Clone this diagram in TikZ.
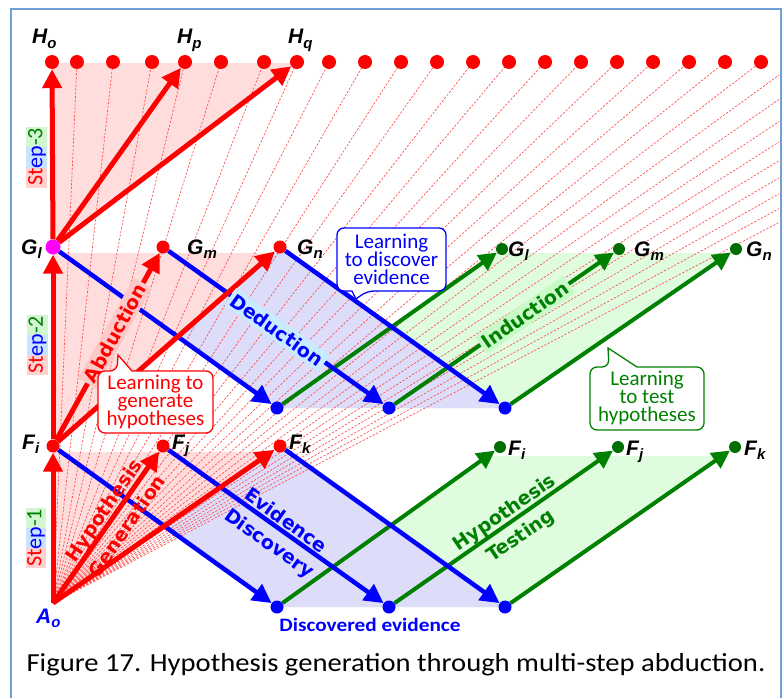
\documentclass[tikz,border=0pt]{standalone}
\usepackage{fontspec}
\usepackage{graphicx}
\setmainfont{Liberation Sans}
\newfontfamily\vfont{DejaVu Sans}
\newfontfamily\cfont{Carlito}
\usetikzlibrary{arrows.meta}
\setlength{\lineskiplimit}{-50pt}

\definecolor{frameblue}{RGB}{110,160,215}
\definecolor{dred}{RGB}{255,0,0}
\definecolor{dblue}{RGB}{0,0,255}
\definecolor{dgreen}{RGB}{0,128,0}
\definecolor{dotgreen}{RGB}{0,110,0}
\definecolor{pinkfill}{RGB}{255,221,221}
\definecolor{lavfill}{RGB}{221,221,250}
\definecolor{mintfill}{RGB}{223,252,223}
\definecolor{fanred}{RGB}{255,80,80}
\definecolor{abbox}{RGB}{255,200,200}
\definecolor{dedbox}{RGB}{200,235,255}
\definecolor{indbox}{RGB}{200,250,200}
\definecolor{stepgreen}{RGB}{210,245,210}
\definecolor{stepblue}{RGB}{200,228,255}
\definecolor{steppink}{RGB}{255,210,210}
\definecolor{magentadot}{RGB}{255,0,255}

\pgfdeclarelayer{fills}
\pgfdeclarelayer{fan}
\pgfdeclarelayer{shafts}
\pgfsetlayers{fills,fan,shafts,main}

% point name with subscript, bold italic
\newcommand{\ptlabel}[2]{{\fontsize{21}{21}\selectfont\bfseries\itshape #1\raisebox{-4.5pt}{\fontsize{15}{15}\selectfont #2}}}

\tikzset{
  dot/.style={circle,inner sep=0pt,minimum size=13pt},
  reddot/.style={dot,fill=dred},
  hdot/.style={dot,fill=dred,minimum size=14pt},
  bluedot/.style={dot,fill=dblue},
  greendot/.style={dot,fill=dotgreen,minimum size=12pt},
  redarrow/.style={draw=dred,line width=5pt,-{Triangle[length=19pt,width=19pt]}},
  bluearrow/.style={draw=dblue,line width=4.5pt,-{Triangle[length=19pt,width=19pt]}},
  greenarrow/.style={draw=dgreen,line width=4pt,-{Triangle[length=18pt,width=18pt]}},
  fanline/.style={draw=fanred,line width=0.7pt,dash pattern=on 2.2pt off 1.6pt},
  ptname/.style={anchor=base west,inner sep=0pt},
  rotlabel/.style={inner sep=3pt,font=\vfont\bfseries\fontsize{19}{19}\selectfont},
  twolines/.style={align=center,inner sep=0pt,font=\vfont\bfseries\fontsize{19}{28}\selectfont},
  callouttext/.style={align=center,inner sep=0pt,font=\cfont\fontsize{21}{18}\selectfont},
  bubble/.style={line width=1.3pt,fill=white,rounded corners=7pt},
  steptext/.style={rotate=90,inner sep=0pt,font=\cfont\fontsize{22}{22}\selectfont},
}

\begin{document}
\begin{tikzpicture}[x=1pt,y=-1pt]
\useasboundingbox (0,0) rectangle (783,698);

% ---------- points ----------
\coordinate (Ao) at (53,603);
\foreach \hx [count=\k] in {52,77,113,152,185,221,264,297,329,365,401,437,473,509,545,581,617,653,689,725,761}
  \node[hdot] (H\k) at (\hx,62) {};
\node[reddot] (Fi) at (53,446) {};
\node[reddot] (Fj) at (163,446) {};
\node[reddot] (Fk) at (280,446) {};
\node[dot,fill=magentadot,minimum size=15pt] (Gl) at (53,247) {};
\node[reddot] (Gm) at (163,247) {};
\node[reddot] (Gn) at (280,247) {};
\node[bluedot] (E1) at (277,607) {};
\node[bluedot] (E2) at (389,607) {};
\node[bluedot] (E3) at (505,607) {};
\node[bluedot] (D1) at (277,408) {};
\node[bluedot] (D2) at (389,408) {};
\node[bluedot] (D3) at (505,408) {};
\node[greendot] (Fpi) at (500,447) {};
\node[greendot] (Fpj) at (618,447) {};
\node[greendot] (Fpk) at (735,447) {};
\node[greendot] (Gpl) at (502,249) {};
\node[greendot] (Gpm) at (619,249) {};
\node[greendot] (Gpn) at (736,249) {};

% ---------- shaded regions ----------
\begin{pgfonlayer}{fills}
  \fill[mintfill] (277,607) -- (505,607) -- (722,456) -- (487,456) -- cycle;
  \fill[mintfill] (277,408) -- (505,408) -- (730,253) -- (496,253) -- cycle;
  \fill[lavfill] (53,452) -- (285,452) -- (505,607) -- (277,607) -- cycle;
  \fill[lavfill] (53,253) -- (285,253) -- (505,408) -- (277,408) -- cycle;
  \fill[pinkfill] (Ao) -- (53,452) -- (272,452) -- cycle;
  \fill[pinkfill] (53,446) -- (53,253) -- (273,253) -- cycle;
  \fill[pinkfill] (53,247) -- (52,63) -- (296,63) -- cycle;
\end{pgfonlayer}

% ---------- fan of candidate hypotheses ----------
\begin{pgfonlayer}{fan}
  \begin{scope}
    \clip (12,10) rectangle (779,698);
    \foreach \hx in {77,113,152,185,221,264,297,329,365,401,437,473,509,545,581,617,653,689,725,761,797,833,869,905,941,977,1013,1049,1085}
      \draw[fanline] (Ao) -- (\hx,62);
  \end{scope}
\end{pgfonlayer}

% ---------- arrows ----------
\begin{pgfonlayer}{shafts}
  \draw[greenarrow] (E1) -- (Fpi);
  \draw[greenarrow] (E2) -- (Fpj);
  \draw[greenarrow] (E3) -- (Fpk);
  \draw[greenarrow] (D1) -- (Gpl);
  \draw[greenarrow] (D2) -- (Gpm);
  \draw[greenarrow] (D3) -- (Gpn);
  \draw[bluearrow] (Fi) -- (E1);
  \draw[bluearrow] (Fj) -- (E2);
  \draw[bluearrow] (Fk) -- (E3);
  \draw[bluearrow] (Gl) -- (D1);
  \draw[bluearrow] (Gm) -- (D2);
  \draw[bluearrow] (Gn) -- (D3);
  \draw[redarrow] (Ao) -- (Fi);
  \draw[redarrow] (Ao) -- (Fj);
  \draw[redarrow] (Ao) -- (Fk);
  \draw[redarrow] (Fi) -- (Gl);
  \draw[redarrow] (Fi) -- (Gm);
  \draw[redarrow] (Fi) -- (Gn);
  \draw[redarrow] (Gl) -- (H1);
  \draw[redarrow] (Gl) -- (H5);
  \draw[redarrow] (Gl) -- (H8);
\end{pgfonlayer}

% ---------- frame ----------
\draw[frameblue,line width=2pt] (11,698) -- (11,9) -- (781,9) -- (781,698);

% ---------- step markers ----------
\fill[stepgreen] (26,127) rectangle (47,147);
\fill[stepblue] (26,147) rectangle (47,168);
\fill[steppink] (26,168) rectangle (47,188);
\node[steptext] (s3) at (37,157) {\color{dred}St\color{dblue}ep\color{dgreen}-3};
\fill[stepgreen] (27,315) rectangle (48,335);
\fill[stepblue] (27,335) rectangle (48,355);
\fill[steppink] (27,355) rectangle (48,375);
\node[steptext] (s2) at (37.5,345) {\color{dred}St\color{dblue}ep\color{dgreen}-2};
\fill[stepgreen] (26,508) rectangle (46,528);
\fill[stepblue] (26,528) rectangle (46,548);
\fill[steppink] (26,548) rectangle (46,568);
\node[steptext] (s1) at (36,538) {\color{dred}St\color{dblue}ep\color{dgreen}-1};

% ---------- labels on the arrows ----------
\node[rotlabel,fill=abbox,text=dred,rotate=61.1] (abd) at (115,333) {Abduction};
\node[rotlabel,fill=dedbox,text=dblue,rotate=-35.5] (ded) at (277,330) {Deduction};
\node[rotlabel,fill=indbox,text=dgreen,rotate=34.8] (ind) at (525,315) {Induction};
\node[twolines,text=dred,rotate=55.3] (hg) at (115,518) {Hypothesis\\Generation};
\node[twolines,text=dblue,rotate=-35.5] (ed) at (277,533) {Evidence\\Discovery};
\node[twolines,text=dgreen,rotate=34.6] (ht) at (513,525) {Hypothesis\\Testing};

% ---------- speech bubbles ----------
\draw[bubble,draw=dred] (98,433) -- (98,371) -- (117,371) [sharp corners] -- (118,355) -- (132,371) [rounded corners=7pt] -- (213,371) -- (213,433) -- cycle;
\node[callouttext,text=dred] (cgen) at (155.5,402) {Learning to\\generate\\hypotheses};
\draw[bubble,draw=dblue] (337,291) -- (337,228) -- (446,228) -- (446,291) -- (367,291) [sharp corners] -- (356,299) -- (352,291) [rounded corners=7pt] -- cycle;
\node[callouttext,text=dblue] (cdisc) at (391.5,259.5) {Learning\\to discover\\evidence};
\draw[bubble,draw=dgreen] (590,430) -- (590,367) -- (609,367) [sharp corners] -- (608,348) -- (637,367) [rounded corners=7pt] -- (704,367) -- (704,430) -- cycle;
\node[callouttext,text=dgreen] (ctest) at (647,398) {Learning\\to test\\hypotheses};

% ---------- point names ----------
\node[ptname] (lHo) at (32,44) {\ptlabel{H}{o}};
\node[ptname] (lHp) at (177,44) {\ptlabel{H}{p}};
\node[ptname] (lHq) at (288,44) {\ptlabel{H}{q}};
\node[ptname] (lGl) at (21,254) {\ptlabel{G}{l}};
\node[ptname] (lGm) at (187,254) {\ptlabel{G}{m}};
\node[ptname] (lGn) at (297,254) {\ptlabel{G}{n}};
\node[ptname] (lFi) at (22,449) {\ptlabel{F}{i}};
\node[ptname] (lFj) at (172,449) {\ptlabel{F}{j}};
\node[ptname] (lFk) at (289,449) {\ptlabel{F}{k}};
\node[ptname] (lGpl) at (508,256) {\ptlabel{G}{l}};
\node[ptname] (lGpm) at (634,256) {\ptlabel{G}{m}};
\node[ptname] (lGpn) at (746,256) {\ptlabel{G}{n}};
\node[ptname] (lFpi) at (508,455) {\ptlabel{F}{i}};
\node[ptname] (lFpj) at (626,455) {\ptlabel{F}{j}};
\node[ptname] (lFpk) at (744,455) {\ptlabel{F}{k}};
\node[ptname,text=dblue] (lAo) at (36,623) {\ptlabel{A}{o}};

% ---------- bottom texts ----------
\node[anchor=base,inner sep=0pt,text=dblue] (disc) at (370,631) {\scalebox{1.12}[1]{\cfont\bfseries\fontsize{19}{19}\selectfont Discovered evidence}};
\node[anchor=base,inner sep=0pt] (cap) at (396,671) {\scalebox{1.1}[1]{\cfont\fontsize{26}{30}\selectfont Figure 17. Hypothesis generation through multi-step abduction.}};
\end{tikzpicture}
\end{document}
